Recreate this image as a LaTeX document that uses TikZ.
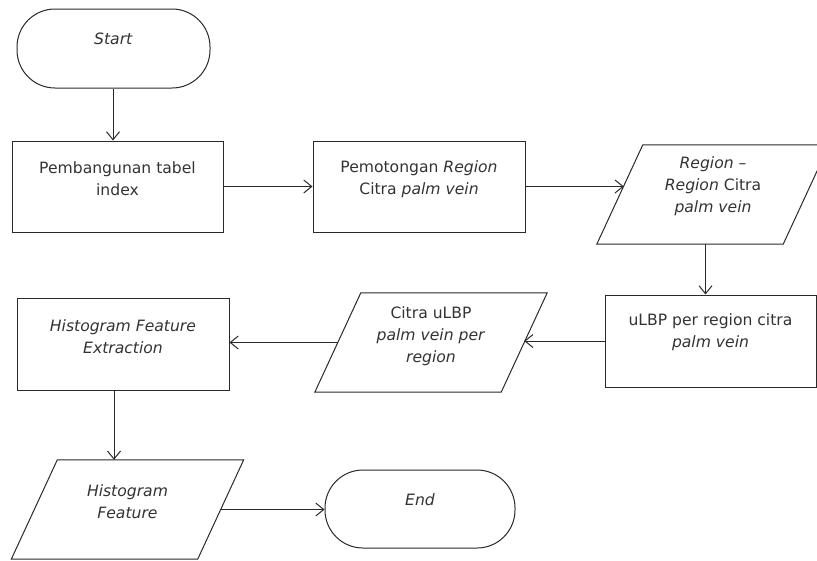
\documentclass[tikz,border=0pt]{standalone}
\usepackage{fontspec}
\setmainfont{DejaVu Sans}
\usetikzlibrary{arrows.meta}
\definecolor{ink}{HTML}{2A2A2A}
\definecolor{txtc}{HTML}{333333}
\tikzset{
  base/.style={draw=ink, line width=1pt, inner sep=0pt},
  procbox/.style={base, rectangle, minimum width=211pt, minimum height=91pt},
  iobody/.style={rectangle, inner sep=0pt, minimum width=186pt, minimum height=99pt},
  iooutline/.style={draw=ink, line width=1pt, line join=miter},
  termbox/.style={base, rectangle, rounded corners=38pt, minimum width=193pt, minimum height=79pt},
  txt/.style={align=center, text=txtc, font=\fontsize{15.6}{22}\selectfont, inner sep=0pt},
  arr/.style={draw=ink, line width=1pt, -{Straight Barb[length=8pt,width=13pt]}},
}
\newcommand{\ioshape}[1]{%
  \draw[iooutline] ([xshift=23pt]#1.north west) -- ([xshift=23pt]#1.north east)
    -- ([xshift=-23pt]#1.south east) -- ([xshift=-23pt]#1.south west) -- cycle;}
\begin{document}
\begin{tikzpicture}[x=1pt,y=-1pt]
\useasboundingbox (0,0) rectangle (817,560);
\clip (0,0) rectangle (817,560);
\fill[white] (0,0) rectangle (817,560);

\node[termbox] (start) at (113.5,48.5) {};
\node[txt] (tstart) at ([yshift=10pt]start.center) {\textit{Start}};

\node[procbox] (b1) at (117.5,186.5) {};
\node[txt] (tb1) at ([yshift=7.5pt]b1.center) {Pembangunan tabel\\index};

\node[procbox, minimum width=212pt] (b2) at (419,186.5) {};
\node[txt] (tb2) at ([yshift=7.5pt]b2.center) {Pemotongan \textit{Region}\\Citra \textit{palm vein}};

\node[iobody] (p3) at (713,194.5) {};
\ioshape{p3}
\node[txt] (tp3) at ([yshift=8.5pt]p3.center) {\textit{Region} –\\\textit{Region} Citra\\\textit{palm vein}};

\node[procbox, minimum height=92pt] (b4) at (710.5,341) {};
\node[txt] (tb4) at ([yshift=9pt]b4.center) {uLBP per region citra\\\textit{palm vein}};

\node[iobody] (p5) at (431,342.5) {};
\ioshape{p5}
\node[txt] (tp5) at ([yshift=6.5pt]p5.center) {Citra uLBP\\\textit{palm vein per}\\\textit{region}};

\node[procbox, minimum width=212pt, minimum height=92pt] (b6) at (123,344) {};
\node[txt] (tb6) at ([yshift=7.5pt]b6.center) {\textit{Histogram Feature}\\\textit{Extraction}};

\node[iobody] (p7) at (127.5,509.5) {};
\ioshape{p7}
\node[txt] (tp7) at ([yshift=8pt]p7.center) {\textit{Histogram}\\\textit{Feature}};

\node[termbox, minimum width=190pt, minimum height=78pt] (end) at (420,509) {};
\node[txt] (tend) at ([yshift=9pt]end.center) {\textit{End}};

\draw[arr] ([xshift=-0.5pt]start.south) -- ([xshift=-0.5pt]start.south |- b1.north);
\draw[arr] (b1.east) -- (b1.east -| b2.west);
\draw[arr] (b2.east) -- ([xshift=4pt]b2.east -| p3.west);
\draw[arr] ([xshift=-5pt]b4.north |- p3.south) -- ([xshift=-5pt]b4.north);
\draw[arr] (b4.west) -- (b4.west -| p5.east);
\draw[arr] (p5.west) -- (p5.west -| b6.east);
\draw[arr] ([xshift=-9pt]b6.south) -- ([xshift=-9pt]b6.south |- p7.north);
\draw[arr] (p7.east) -- (p7.east -| end.west);
\end{tikzpicture}
\end{document}
